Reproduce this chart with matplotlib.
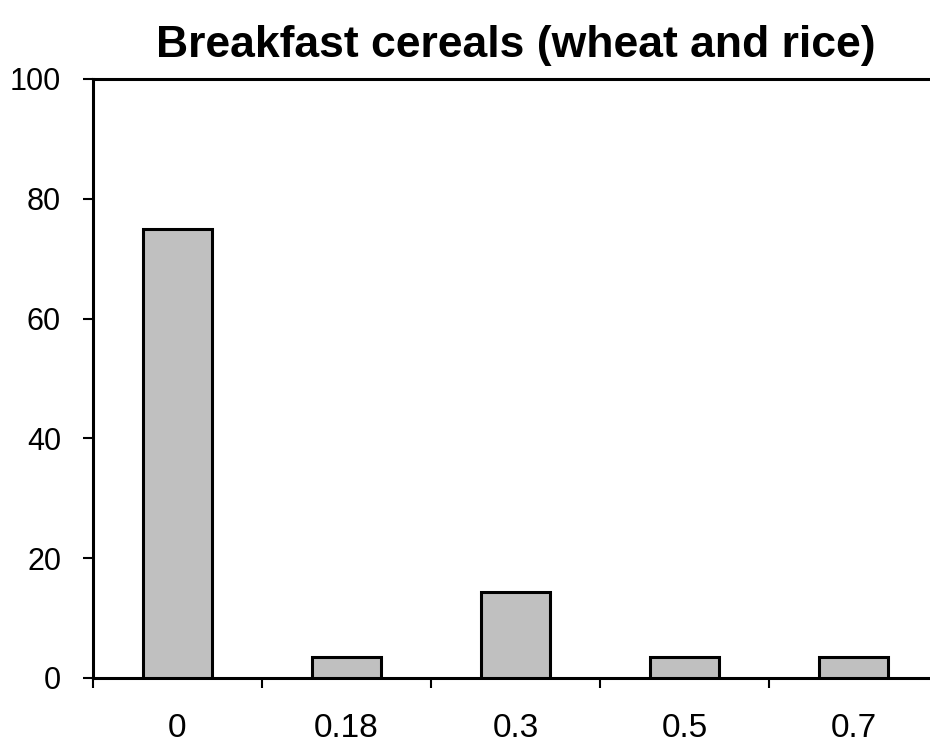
import matplotlib
matplotlib.use("Agg")
from matplotlib import pyplot as plt
import numpy as np

plt.rcParams['font.family'] = ['Liberation Sans', 'DejaVu Sans']

# fraction of samples per level (21, 1, 4, 1, 1 out of 28)
levels = ["0", "0.18", "0.3", "0.5", "0.7"]
percent = [75.0, 3.57, 14.29, 3.57, 3.57]
y_ticks = [0, 20, 40, 60, 80, 100]

fig = plt.figure(figsize=(9.3, 7.45), dpi=100)
ax = fig.add_axes([0.1, 0.09, 0.9086, 0.804])

x = np.arange(len(levels))
ax.bar(x, percent, width=0.414, color="#c0c0c0", edgecolor="black", linewidth=2.2, zorder=3)

ax.set_xlim(-0.5, len(levels) - 0.5)
ax.set_ylim(0, 100)

ax.set_xticks(x)
ax.set_xticklabels(levels)
ax.set_xticks(np.arange(-0.5, len(levels) + 0.5, 1), minor=True)
ax.tick_params(axis="x", which="major", length=0, pad=25, labelsize=24)
ax.tick_params(axis="x", which="minor", length=7, width=1.5, direction="out")

ax.set_yticks(y_ticks)
ax.tick_params(axis="y", length=7, width=1.5, direction="out", pad=16, labelsize=22)

for side in ["left", "bottom", "top", "right"]:
    ax.spines[side].set_linewidth(2.2)

ax.set_title("Breakfast cereals (wheat and rice)", fontsize=32, fontweight="bold", pad=16)

fig.savefig("out.png", dpi=100)
